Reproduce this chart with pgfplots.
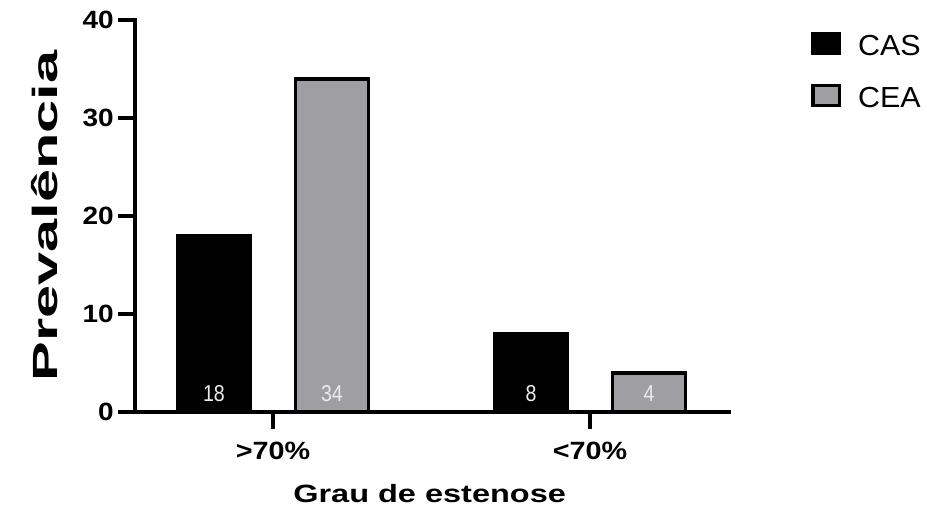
\documentclass[border=0pt]{standalone}
\usepackage{fontspec}
\setmainfont{Liberation Sans}
\usepackage{pgfplots}
\pgfplotsset{compat=1.18}
\definecolor{ceagray}{RGB}{158,158,163}
\definecolor{valtext}{RGB}{235,235,235}

\begin{document}
\begin{tikzpicture}
\path[use as bounding box] (0pt,0pt) rectangle (927pt,511pt);
\begin{axis}[
  at={(135pt,99pt)}, anchor=south west,
  scale only axis, width=594pt, height=392pt,
  xmin=-0.4353, xmax=1.4385, ymin=0, ymax=40,
  axis lines*=left,
  axis line style={line width=3.5pt, line cap=rect},
  xtick={0,1}, xticklabels={\scalebox{1.15}[1]{>70\%}, \scalebox{1.15}[1]{<70\%}},
  ytick={0,10,20,30,40},
  yticklabel={\scalebox{1.12}[1]{\pgfmathprintnumber{\tick}}},
  tick align=outside, major tick length=17pt,
  tick style={line width=3.5pt, black},
  /pgf/number format/assume math mode=true,
  yticklabel style={font=\bfseries\fontsize{25}{25}\selectfont, inner sep=0pt, xshift=-4pt},
  xticklabel style={font=\bfseries\fontsize{25}{25}\selectfont, inner sep=0pt, yshift=-13pt},
  xlabel={\scalebox{1.3}[1]{Grau de estenose}},
  xlabel style={font=\bfseries\fontsize{25}{25}\selectfont, at={(axis description cs:0.496,-0.232)}, anchor=base, inner sep=0pt},
  ylabel={\scalebox{1.7}[1]{Prevalência}},
  ylabel style={font=\bfseries\fontsize{35}{35}\selectfont, at={(axis description cs:-0.1313,0.5)}, anchor=base, inner sep=0pt},
  legend style={draw=none, fill=none, at={(axis description cs:1.138,0.97)}, anchor=north west, inner sep=0pt, row sep=26pt, column sep=17pt,
    font=\fontsize{29}{29}\selectfont,
    nodes={inner sep=0pt, text height=22pt, text depth=2pt}},
  legend cell align=left,
  legend image code/.code={\draw[#1, line width=3.5pt] (1.75pt,-8pt) rectangle (28.25pt,12pt);},
  clip=false,
]
\addplot[ybar, bar width=0.230, bar shift=-0.186, fill=black, draw=black, line width=3.5pt] coordinates {(0,18) (1,8)};
\addlegendentry{\scalebox{1.05}[1]{CAS}}
\addplot[ybar, bar width=0.230, bar shift=0.186, fill=ceagray, draw=black, line width=3.5pt] coordinates {(0,34) (1,4)};
\addlegendentry{\scalebox{1.05}[1]{CEA}}
\addplot[forget plot, ybar, bar width=0.230, bar shift=-0.186, draw=none, fill=none,
  nodes near coords={\scalebox{0.85}[1]{\pgfplotspointmeta}}, point meta=explicit symbolic,
  nodes near coords style={anchor=base, xshift=-59pt, yshift=10pt, inner sep=0pt, text=valtext, font=\fontsize{23}{23}\selectfont}]
  coordinates {(0,0) [18] (1,0) [8]};
\addplot[forget plot, ybar, bar width=0.230, bar shift=0.186, draw=none, fill=none,
  nodes near coords={\scalebox{0.85}[1]{\pgfplotspointmeta}}, point meta=explicit symbolic,
  nodes near coords style={anchor=base, xshift=59pt, yshift=10pt, inner sep=0pt, text=valtext, font=\fontsize{23}{23}\selectfont}]
  coordinates {(0,0) [34] (1,0) [4]};
\end{axis}
\end{tikzpicture}
\end{document}
